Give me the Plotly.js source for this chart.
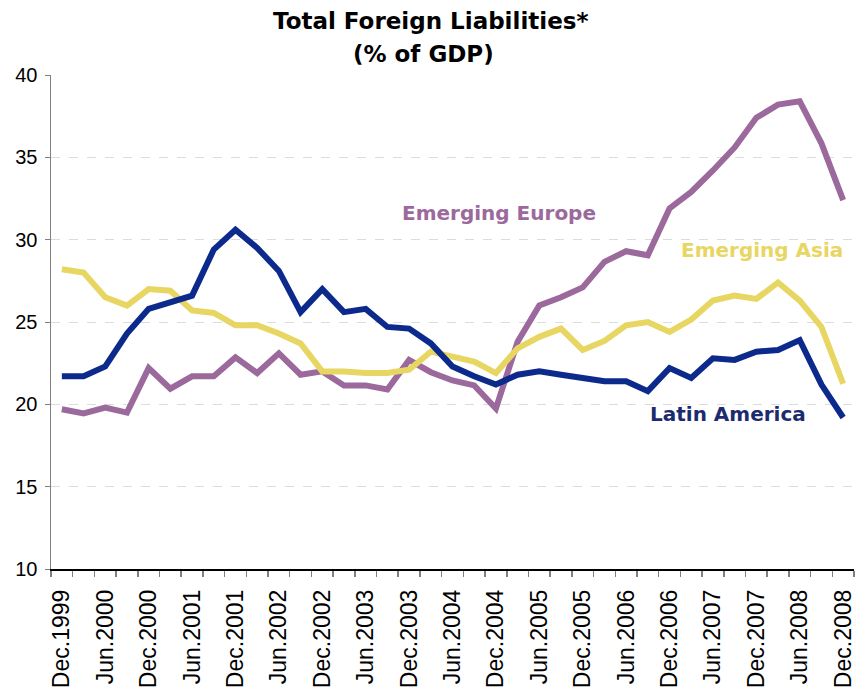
<!DOCTYPE html>
<html><head><meta charset="utf-8">
<script src="https://cdn.plot.ly/plotly-3.0.1.min.js"></script>
<style>html,body{margin:0;padding:0;background:#fff;}#chart{width:857px;height:696px;}</style>
</head><body><div id="chart"></div>
<script>
const quarters = ["Dec.1999","Mar.2000","Jun.2000","Sep.2000","Dec.2000","Mar.2001","Jun.2001","Sep.2001","Dec.2001","Mar.2002","Jun.2002","Sep.2002","Dec.2002","Mar.2003","Jun.2003","Sep.2003","Dec.2003","Mar.2004","Jun.2004","Sep.2004","Dec.2004","Mar.2005","Jun.2005","Sep.2005","Dec.2005","Mar.2006","Jun.2006","Sep.2006","Dec.2006","Mar.2007","Jun.2007","Sep.2007","Dec.2007","Mar.2008","Jun.2008","Sep.2008","Dec.2008"];
const latinAmerica = [21.7,21.7,22.3,24.3,25.8,26.2,26.6,29.4,30.6,29.5,28.1,25.6,27.0,25.6,25.8,24.7,24.6,23.7,22.3,21.7,21.2,21.8,22.0,21.8,21.6,21.4,21.4,20.8,22.2,21.6,22.8,22.7,23.2,23.3,23.9,21.2,19.2];
const emergingAsia = [28.2,28.0,26.5,26.0,27.0,26.9,25.7,25.55,24.8,24.8,24.3,23.7,22.0,22.0,21.9,21.9,22.1,23.2,22.9,22.6,21.9,23.4,24.1,24.6,23.3,23.85,24.8,25.0,24.4,25.15,26.3,26.6,26.4,27.4,26.3,24.7,21.25];
const emergingEurope = [19.7,19.45,19.8,19.5,22.2,20.95,21.7,21.7,22.85,21.9,23.1,21.8,22.0,21.15,21.15,20.9,22.7,21.95,21.45,21.15,19.75,23.8,26.0,26.5,27.1,28.65,29.3,29.05,31.9,32.9,34.2,35.6,37.4,38.2,38.4,35.85,32.4];
const seriesNames = ["Latin America","Emerging Asia","Emerging Europe"];
const yTicks = [10,15,20,25,30,35,40];

const idx = quarters.map((q,i)=>i);
const tickIdx = idx.filter(i=>i%2===0);
const tickText = tickIdx.map(i=>quarters[i]);

const colors = ["#0b2a8c","#e8d663","#9b699c"];
const series = [latinAmerica, emergingAsia, emergingEurope];
const traces = series.map((s,k)=>({
  x: idx, y: s, type:'scatter', mode:'lines', name: seriesNames[k],
  line:{color:colors[k], width:6, shape:'linear'}, hoverinfo:'skip'
}));
const data = [traces[2], traces[1], traces[0]];

const titleFont = {family:'"DejaVu Sans", Verdana, sans-serif', size:23, color:'#000'};
const layout = {
  width:857, height:696,
  margin:{l:51, r:3, t:75, b:127},
  paper_bgcolor:'#fff', plot_bgcolor:'#fff',
  showlegend:false,
  font:{family:'"Liberation Sans", Arial, sans-serif', color:'#000'},
  xaxis:{
    range:[-0.5, 36.5], tickmode:'array', tickvals:tickIdx, ticktext:tickText,
    tickangle:-90, ticks:'', ticklabelstandoff:10,
    tickfont:{size:23, family:'"Liberation Sans", Arial, sans-serif'},
    showline:true, linecolor:'#000', linewidth:1.5, showgrid:false, zeroline:false,
    minor:{ticks:'outside', tick0:-0.5, dtick:1, ticklen:6, tickcolor:'#808080', tickwidth:1.5, showgrid:false},
    fixedrange:true
  },
  yaxis:{
    range:[10,40], tickmode:'array', tickvals:yTicks, ticks:'outside', ticklen:5, tickcolor:'#808080',
    ticklabelstandoff:3,
    tickfont:{size:20, family:'"Liberation Sans", Arial, sans-serif'},
    showline:true, linecolor:'#808080', linewidth:1.5,
    showgrid:true, gridcolor:'#dcdcdc', griddash:'dash', gridwidth:1, zeroline:false, fixedrange:true
  },
  annotations:[
    {text:'<b>Total Foreign Liabilities*</b>', xref:'paper', yref:'paper', x:(430-51)/803, y:1+(75-21)/494, xanchor:'center', yanchor:'middle', showarrow:false, font:titleFont},
    {text:'<b>(% of GDP)</b>', xref:'paper', yref:'paper', x:(423-51)/803, y:1+(75-54)/494, xanchor:'center', yanchor:'middle', showarrow:false, font:titleFont},
    {text:'<b>'+seriesNames[2]+'</b>', x:20.15, y:31.6, xref:'x', yref:'y', showarrow:false, xanchor:'center', yanchor:'middle', font:{family:'"DejaVu Sans", Verdana, sans-serif', size:20, color:'#9b699c'}},
    {text:'<b>'+seriesNames[1]+'</b>', x:32.25, y:29.4, xref:'x', yref:'y', showarrow:false, xanchor:'center', yanchor:'middle', font:{family:'"DejaVu Sans", Verdana, sans-serif', size:20, color:'#e8d663'}},
    {text:'<b>'+seriesNames[0]+'</b>', x:30.7, y:19.4, xref:'x', yref:'y', showarrow:false, xanchor:'center', yanchor:'middle', font:{family:'"DejaVu Sans", Verdana, sans-serif', size:20, color:'#1c2b6e'}}
  ]
};
Plotly.newPlot('chart', data, layout, {staticPlot:true, displayModeBar:false});
</script></body></html>
